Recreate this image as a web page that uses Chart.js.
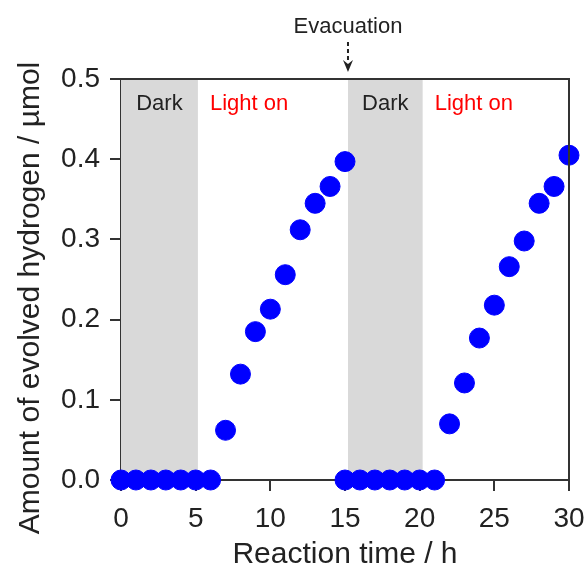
<!DOCTYPE html>
<html>
<head>
<meta charset="utf-8">
<script src="https://cdn.jsdelivr.net/npm/chart.js@4"></script>
<style>
  html, body { margin: 0; padding: 0; background: #fff; }
  #wrap { width: 587px; height: 568px; }
</style>
</head>
<body>
<div id="wrap"><canvas id="h2Chart"></canvas></div>
<script>
// reaction time (h) and evolved H2 (umol); second run restarts at 15 h after evacuation
const hours = [0, 1, 2, 3, 4, 5, 6, 7, 8, 9, 10, 11, 12, 13, 14, 15,
               15, 16, 17, 18, 19, 20, 21, 22, 23, 24, 25, 26, 27, 28, 29, 30];
const hydrogen = [0, 0, 0, 0, 0, 0, 0, 0.062, 0.132, 0.185, 0.213, 0.256, 0.312, 0.345, 0.366, 0.397,
                  0, 0, 0, 0, 0, 0, 0, 0.070, 0.121, 0.177, 0.218, 0.266, 0.298, 0.345, 0.366, 0.405];
const darkPeriods = [[0, 5.15], [15.2, 20.2]];
const xTicks = [0, 5, 10, 15, 20, 25, 30];
const yTicks = [0, 0.1, 0.2, 0.3, 0.4, 0.5];
const xTitle = 'Reaction time / h';
const yTitle = 'Amount of evolved hydrogen / µmol';

const font = "'Liberation Sans', Arial, sans-serif";
const ink = '#222';

// gray "Dark" bands, labels, frame, axis titles and evacuation arrow
const decorations = {
    id: 'decorations',
    beforeDatasetsDraw(chart) {
        const { ctx, chartArea: a, scales: { x } } = chart;
        ctx.save();
        ctx.fillStyle = '#d9d9d9';
        darkPeriods.forEach(p => {
            const x0 = x.getPixelForValue(p[0]);
            const x1 = x.getPixelForValue(p[1]);
            ctx.fillRect(x0, a.top, x1 - x0, a.bottom - a.top);
        });
        ctx.font = '22px ' + font;
        ctx.textBaseline = 'alphabetic';
        const ty = a.top + 31;
        darkPeriods.forEach(p => {
            ctx.fillStyle = ink;
            ctx.textAlign = 'center';
            ctx.fillText('Dark', (x.getPixelForValue(p[0]) + x.getPixelForValue(p[1])) / 2, ty);
            ctx.fillStyle = '#ff0000';
            ctx.textAlign = 'left';
            ctx.fillText('Light on', x.getPixelForValue(p[1]) + 12, ty);
        });
        ctx.restore();
    },
    afterDraw(chart) {
        const { ctx, chartArea: a, scales: { x } } = chart;
        ctx.save();
        // top and right frame
        ctx.strokeStyle = '#333';
        ctx.lineWidth = 2;
        ctx.beginPath();
        ctx.moveTo(a.left, a.top);
        ctx.lineTo(a.right, a.top);
        ctx.lineTo(a.right, a.bottom);
        ctx.stroke();

        // axis titles
        ctx.fillStyle = ink;
        ctx.font = '30px ' + font;
        ctx.textAlign = 'center';
        ctx.textBaseline = 'alphabetic';
        ctx.fillText(xTitle, (a.left + a.right) / 2, 563);
        ctx.save();
        ctx.translate(39, 298);
        ctx.rotate(-Math.PI / 2);
        ctx.fillText(yTitle, 0, 0);
        ctx.restore();

        // evacuation arrow
        const ax = x.getPixelForValue(15.2);
        ctx.font = '22px ' + font;
        ctx.fillText('Evacuation', ax, 33);
        ctx.strokeStyle = ink;
        ctx.lineWidth = 2;
        ctx.setLineDash([4, 3]);
        ctx.beginPath();
        ctx.moveTo(ax, 42);
        ctx.lineTo(ax, 63);
        ctx.stroke();
        ctx.setLineDash([]);
        ctx.beginPath();
        ctx.moveTo(ax, 72);
        ctx.lineTo(ax - 5, 60);
        ctx.lineTo(ax, 64);
        ctx.lineTo(ax + 5, 60);
        ctx.closePath();
        ctx.fill();
        ctx.restore();
    }
};

const ctx = document.getElementById('h2Chart').getContext('2d');
new Chart(ctx, {
    type: 'scatter',
    data: {
        datasets: [{
            data: hours.map((h, i) => ({ x: h, y: hydrogen[i] })),
            backgroundColor: '#0000ff',
            borderColor: '#0000ff',
            borderWidth: 1,
            pointRadius: 10,
            pointHoverRadius: 10,
            clip: false
        }]
    },
    options: {
        responsive: true,
        maintainAspectRatio: false,
        animation: false,
        layout: { padding: { top: 79, right: 18, left: 0, bottom: 0 } },
        plugins: { legend: { display: false }, tooltip: { enabled: false } },
        scales: {
            x: {
                type: 'linear',
                min: 0,
                max: 30,
                afterBuildTicks: s => { s.ticks = xTicks.map(v => ({ value: v })); },
                afterFit: s => { s.height = 88; s.paddingLeft = 0; s.paddingRight = 0; },
                ticks: { color: ink, font: { size: 28, family: font }, padding: 11, maxRotation: 0 },
                grid: { drawOnChartArea: false, tickLength: 11, color: '#333', lineWidth: 2 },
                border: { color: '#333', width: 2 }
            },
            y: {
                min: 0,
                max: 0.5,
                afterBuildTicks: s => { s.ticks = yTicks.map(v => ({ value: v })); },
                afterFit: s => { s.width = 121; s.paddingTop = 0; s.paddingBottom = 0; },
                ticks: { color: ink, font: { size: 28, family: font }, padding: 10, callback: v => v.toFixed(1) },
                grid: { drawOnChartArea: false, tickLength: 11, color: '#333', lineWidth: 2 },
                border: { color: '#333', width: 2 }
            }
        }
    },
    plugins: [decorations]
});
</script>
</body>
</html>
